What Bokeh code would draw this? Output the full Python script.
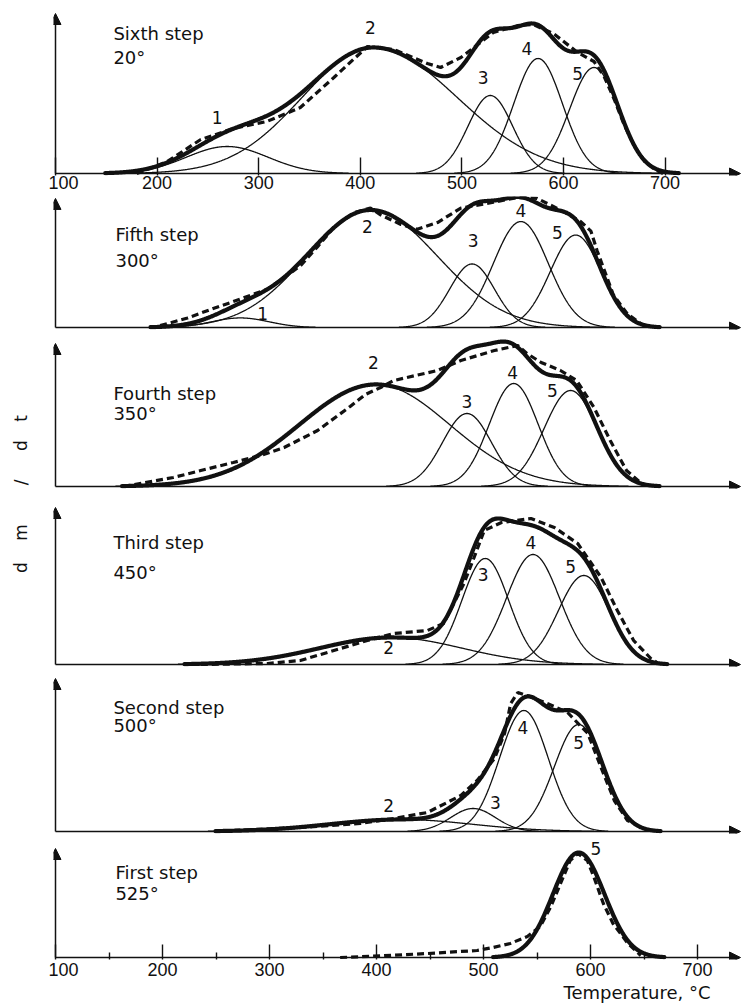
import numpy as np
from bokeh.plotting import figure
from bokeh.layouts import row, column
from bokeh.models import Range1d, Arrow, NormalHead, FixedTicker, LinearAxis, Title
from bokeh.core.properties import value
from bokeh.embed import file_html
from bokeh.resources import INLINE

# ---------------- data ----------------
TICKS = [100, 200, 300, 400, 500, 600, 700]
MINOR_TICKS = [150, 250, 350, 450, 550, 650]
X_TITLE = "Temperature, °C"
Y_TITLE_CHARS = ["d", "m", "/", "d", "t"]

STEP_NAMES = ["Sixth step", "Fifth step", "Fourth step", "Third step", "Second step", "First step"]
STEP_TEMPS = ["20°", "300°", "350°", "450°", "500°", "525°"]

# component peaks: id, centre (°C), height, left width, right width
S6_IDS = ["1", "2", "3", "4", "5"]
S6_CENTRE = [269, 413, 528, 575, 630]
S6_HEIGHT = [27, 126, 78, 115, 106]
S6_WL = [40, 70, 22, 24, 24]
S6_WR = [40, 82, 22, 24, 24]
S6_EXP_T = [180, 210, 243, 275, 308, 341, 374, 407, 433, 466, 479, 499, 531, 555, 570, 590, 614, 630, 640, 650, 660, 670, 680, 690, 698]
S6_EXP_H = [0, 12, 34, 45, 52, 66, 96, 127, 124, 110, 106, 116, 141, 148, 149, 140, 121, 112, 97, 74, 48, 27, 12, 4, 0]

S5_IDS = ["1", "2", "3", "4", "5"]
S5_CENTRE = [282, 410, 510, 558, 612]
S5_HEIGHT = [10, 122, 66, 110, 96]
S5_WL = [28, 63, 22, 27, 25]
S5_WR = [28, 66, 22, 27, 25]
S5_EXP_T = [203, 230, 256, 275, 309, 341, 358, 374, 393, 410, 420, 440, 456, 476, 499, 531, 555, 574, 597, 617, 627, 633, 640, 649, 663, 679]
S5_EXP_H = [2, 10, 20, 27, 40, 64, 84, 104, 119, 124, 117, 107, 102, 109, 124, 130, 135, 134, 122, 110, 100, 80, 60, 34, 14, 2]

S4_IDS = ["2", "3", "4", "5"]
S4_CENTRE = [415, 505, 551, 607]
S4_HEIGHT = [102, 73, 103, 96]
S4_WL = [75, 24, 24, 26]
S4_WR = [73, 24, 24, 26]
S4_EXP_T = [167, 216, 243, 275, 302, 325, 358, 390, 405, 420, 433, 476, 499, 532, 555, 564, 578, 597, 613, 630, 646, 662, 679]
S4_EXP_H = [0, 9, 16, 24, 31, 39, 56, 80, 92, 99, 106, 116, 126, 136, 141, 133, 124, 116, 106, 79, 46, 16, 1]

S3_IDS = ["2", "3", "4", "5"]
S3_CENTRE = [430, 523, 570, 620]
S3_HEIGHT = [27, 106, 110, 89]
S3_WL = [70, 23, 26, 25]
S3_WR = [70, 23, 26, 25]
S3_EXP_T = [243, 309, 341, 374, 407, 433, 466, 482, 492, 502, 512, 522, 539, 568, 591, 614, 637, 653, 669, 686, 692]
S3_EXP_H = [0, 1, 4, 14, 24, 31, 34, 41, 61, 81, 107, 134, 142, 146, 137, 121, 87, 54, 24, 6, 2]

S2_IDS = ["2", "3", "4", "5"]
S2_CENTRE = [440, 511, 561, 615]
S2_HEIGHT = [12, 23, 121, 107]
S2_WL = [70, 22, 24, 24]
S2_WR = [70, 22, 24, 24]
S2_EXP_T = [275, 341, 400, 433, 466, 499, 515, 532, 542, 548, 555, 564, 584, 604, 624, 637, 650, 663, 679]
S2_EXP_H = [1, 4, 8, 13, 19, 36, 51, 73, 98, 128, 139, 136, 128, 119, 98, 64, 31, 11, 3]

S1_IDS = ["5"]
S1_CENTRE = [589]
S1_HEIGHT = [105]
S1_WL = [24]
S1_WR = [24]
S1_EXP_T = [366, 385, 416, 448, 478, 494, 509, 525, 541, 553, 563, 572, 581, 588, 597, 603, 612, 621, 635, 647]
S1_EXP_H = [0, 0.7, 2.3, 4, 6, 7, 10, 14, 21, 31, 51, 74, 97, 104, 97, 81, 54, 34, 14, 2]

DATA = [
    (S6_IDS, S6_CENTRE, S6_HEIGHT, S6_WL, S6_WR, S6_EXP_T, S6_EXP_H),
    (S5_IDS, S5_CENTRE, S5_HEIGHT, S5_WL, S5_WR, S5_EXP_T, S5_EXP_H),
    (S4_IDS, S4_CENTRE, S4_HEIGHT, S4_WL, S4_WR, S4_EXP_T, S4_EXP_H),
    (S3_IDS, S3_CENTRE, S3_HEIGHT, S3_WL, S3_WR, S3_EXP_T, S3_EXP_H),
    (S2_IDS, S2_CENTRE, S2_HEIGHT, S2_WL, S2_WR, S2_EXP_T, S2_EXP_H),
    (S1_IDS, S1_CENTRE, S1_HEIGHT, S1_WL, S1_WR, S1_EXP_T, S1_EXP_H),
]

# ---------------- layout (positions / sizes) ----------------
LAYOUT = [
    dict(h=196, mbt=10, mbb=21, ymax=163, scale=1.016, axis="top", tip=160,
         lab_x=[259, 410, 521, 564, 614], lab_y=[56, 146, 96, 125, 100], txt_x=157, txt_y=[140, 116]),
    dict(h=134, mbt=0, mbb=1, ymax=136, scale=1.016, axis=None, tip=134,
         lab_x=[304, 407, 511, 558, 594], lab_y=[15, 105, 90, 121, 99], txt_x=159, txt_y=[97, 70]),
    dict(h=159, mbt=8, mbb=1, ymax=148, scale=1.016, axis=None, tip=143,
         lab_x=[413, 505, 550, 589], lab_y=[124, 85, 114, 96], txt_x=157, txt_y=[93, 73]),
    dict(h=178, mbt=14, mbb=1, ymax=161, scale=1.016, axis=None, tip=157,
         lab_x=[428, 521, 568, 607], lab_y=[17, 90, 122, 98], txt_x=157, txt_y=[122, 92]),
    dict(h=167, mbt=6, mbb=1, ymax=158, scale=1.016, axis=None, tip=153,
         lab_x=[428, 533, 560, 615], lab_y=[26, 29, 104, 89], txt_x=157, txt_y=[124, 106]),
    dict(h=174, mbt=4, mbb=49, ymax=119, scale=1.07, axis="bottom", tip=109,
         lab_x=[605], lab_y=[109], txt_x=156, txt_y=[85, 64]),
]

FONT = "DejaVu Sans"
INK = "#111111"
LEFT_W = 48
PANEL_W = 695
FRAME_W = 690


def bell(t, c, h, wl, wr):
    w = np.where(t < c, wl, wr)
    return h * np.exp(-0.5 * ((t - c) / w) ** 2)


figs = []
for k, (lay, dat) in enumerate(zip(LAYOUT, DATA)):
    ids, cen, hei, wl, wr, ext, exh = dat
    s = lay["scale"]
    x0 = 100 - 2 / s
    x1 = 100 + (FRAME_W - 2) / s
    p = figure(width=PANEL_W, height=lay["h"], x_range=Range1d(x0, x1),
               y_range=Range1d(-2, lay["ymax"]), output_backend="svg",
               toolbar_location=None, x_axis_location=None, y_axis_location=None,
               min_border_left=5, min_border_right=0,
               min_border_top=lay["mbt"], min_border_bottom=lay["mbb"])
    p.outline_line_color = None
    p.grid.visible = False
    p.background_fill_color = "white"
    p.border_fill_color = "white"

    if lay["axis"] is not None:
        ax = LinearAxis(ticker=FixedTicker(ticks=TICKS,
                                           minor_ticks=MINOR_TICKS if lay["axis"] == "bottom" else []))
        ax.axis_line_color = None
        ax.major_tick_line_color = INK
        ax.major_tick_line_width = 1.4
        ax.major_tick_out = 0
        ax.major_tick_in = 18 if lay["axis"] == "top" else 15
        ax.minor_tick_out = 0
        ax.minor_tick_in = 7
        ax.minor_tick_line_color = INK if lay["axis"] == "bottom" else None
        ax.minor_tick_line_width = 1.4
        ax.major_label_text_font = "Liberation Sans"
        ax.major_label_text_font_size = "18px"
        ax.major_label_text_color = INK
        ax.major_label_standoff = 0 if lay["axis"] == "top" else 3
        p.add_layout(ax, "below")
        if lay["axis"] == "bottom":
            p.add_layout(Title(text=X_TITLE, align="right", offset=33, standoff=2,
                               text_font=FONT, text_font_size="18px", text_font_style="normal",
                               text_color=INK), "below")

    t = np.arange(100, 760.5, 0.5)
    comps = [bell(t, c, h, a, b) for c, h, a, b in zip(cen, hei, wl, wr)]
    total = np.sum(comps, axis=0)
    if len(comps) > 1:
        for comp in comps:
            yy = np.where(comp > 0.3, comp, np.nan)
            p.line(t, yy, line_color=INK, line_width=1.3)
    tt = np.where(total > 0.4, total, np.nan)
    p.line(t, tt, line_color=INK, line_width=4.2, line_join="round", line_cap="round")
    p.line(ext, exh, line_color=INK, line_width=3.2, line_dash="7 4")

    # axes drawn as arrows
    head = dict(size=11, fill_color=INK, line_color=INK)
    p.add_layout(Arrow(end=NormalHead(**head), x_start=100, y_start=0, x_end=100, y_end=lay["tip"],
                       line_color=INK, line_width=1.5))
    p.add_layout(Arrow(end=NormalHead(**head), x_start=100, y_start=0, x_end=100 + (FRAME_W - 5) / s,
                       y_end=0, line_color=INK, line_width=1.5))

    p.text(x=lay["lab_x"], y=lay["lab_y"], text=ids, text_font=value(FONT), text_font_size="17px",
           text_align="center", text_baseline="middle", text_color=INK)
    p.text(x=[lay["txt_x"], lay["txt_x"]], y=lay["txt_y"], text=[STEP_NAMES[k], STEP_TEMPS[k]],
           text_font=value(FONT), text_font_size="18px", text_align="left", text_baseline="middle",
           text_color=INK)
    figs.append(p)

TOTAL_H = sum(l["h"] for l in LAYOUT)
# left label strip
lf = figure(width=LEFT_W, height=TOTAL_H, x_range=Range1d(0, LEFT_W),
            y_range=Range1d(TOTAL_H, 0), output_backend="svg",
            toolbar_location=None, x_axis_location=None, y_axis_location=None,
            min_border=0)
lf.outline_line_color = None
lf.grid.visible = False
lf.text(x=[20, 20, 20, 20, 20], y=[567, 532, 482, 445, 418], text=Y_TITLE_CHARS, angle=np.pi / 2,
        text_font=value(FONT), text_font_size="17px", text_align="center", text_baseline="middle",
        text_color=INK)

layout = row(lf, column(*figs))
open("out.html", "w").write(file_html(layout, INLINE))
